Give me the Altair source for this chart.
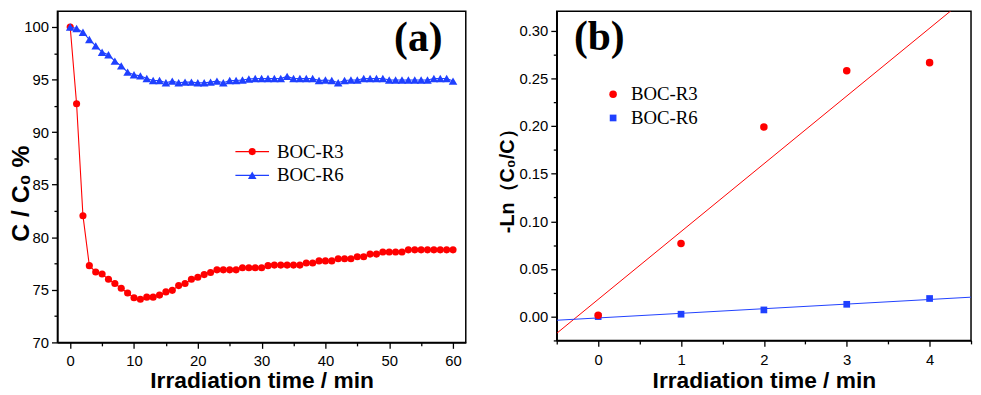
import altair as alt
import pandas as pd

# ---------------- data ----------------
names = ["BOC-R3", "BOC-R6"]
colors = ["#ff0000", "#1f40ff"]
panel_labels = ["(a)", "(b)"]

time_a = list(range(61))
r3_a = [100.0, 92.7, 82.05, 77.3, 76.7, 76.5, 76.0, 75.6, 75.15, 74.7, 74.25,
        74.1, 74.3, 74.3, 74.5, 74.8, 74.95, 75.4, 75.6, 76.0, 76.2,
        76.45, 76.65, 76.9, 76.9, 76.9, 76.9, 77.1, 77.1, 77.1, 77.1,
        77.3, 77.35, 77.35, 77.35, 77.35, 77.35, 77.55, 77.55, 77.75, 77.75,
        77.75, 77.95, 77.95, 77.95, 78.15, 78.15, 78.4, 78.4, 78.6, 78.6,
        78.6, 78.6, 78.8, 78.8, 78.8, 78.8, 78.8, 78.8, 78.8, 78.8]
r6_a = [100.0, 99.85, 99.5, 98.8, 98.2, 97.6, 97.35, 96.75, 96.3, 95.7, 95.45,
        95.35, 95.1, 94.9, 94.9, 94.7, 94.85, 94.7, 94.75, 94.75, 94.7,
        94.7, 94.75, 94.85, 94.7, 94.9, 94.9, 94.95, 95.05, 95.1, 95.1,
        95.1, 95.1, 95.1, 95.3, 95.1, 95.1, 95.1, 95.1, 94.9, 94.95,
        94.9, 94.7, 94.9, 94.95, 94.95, 95.1, 95.1, 95.1, 95.1, 94.95,
        94.95, 94.95, 94.95, 94.95, 94.95, 94.95, 95.1, 95.1, 95.1, 94.85]

time_b = [0, 1, 2, 3, 4]
r3_b = [0.0014, 0.0768, 0.199, 0.258, 0.2665]
r6_b = [0.0, 0.0025, 0.007, 0.0129, 0.019]

xticks_a = [0, 5, 10, 15, 20, 25, 30, 35, 40, 45, 50, 55, 60]
yticks_a = [70, 72.5, 75, 77.5, 80, 82.5, 85, 87.5, 90, 92.5, 95, 97.5, 100]
xticks_b = [-0.5, 0, 0.5, 1, 1.5, 2, 2.5, 3, 3.5, 4, 4.5]
yticks_b = [-0.025, 0.0, 0.025, 0.05, 0.075, 0.1, 0.125, 0.15, 0.175, 0.2,
            0.225, 0.25, 0.275, 0.3]

# ---------------- helpers ----------------
def cond_tick(test, big=6, small=3.5):
    return {"condition": {"test": test, "value": big}, "value": small}

TITLE_FONT = "Liberation Sans"
SERIF = "Liberation Serif"

# ---------------- panel (a) ----------------
df_a = pd.DataFrame({
    "t": time_a * 2,
    "v": r3_a + r6_a,
    "s": [names[0]] * len(time_a) + [names[1]] * len(time_a),
})

xa = alt.X("t:Q", scale=alt.Scale(domain=[-2, 62], nice=False, zero=False),
           axis=alt.Axis(values=xticks_a, title="Irradiation time / min",
                         labelExpr="datum.value % 10 === 0 ? datum.label : ''",
                         tickSize=cond_tick("datum.value % 10 === 0"),
                         labelPadding=5, titlePadding=2, titleFontSize=23))
ya = alt.Y("v:Q", scale=alt.Scale(domain=[70, 101.5], nice=False, zero=False),
           axis=alt.Axis(values=yticks_a, title="C / C₀ %",
                         labelExpr="datum.value % 5 === 0 ? datum.label : ''",
                         tickSize=cond_tick("datum.value % 5 === 0"),
                         labelPadding=3, titlePadding=-10, titleFontSize=25,
                         titleY=184))

shapes_a = ["circle", "triangle-up"]
sizes_a = [52, 75]
layers_a = []
for i, nm in enumerate(names):
    d = df_a[df_a["s"] == nm]
    base = alt.Chart(d)
    layers_a.append(base.mark_line(color=colors[i], strokeWidth=1.1).encode(x=xa, y=ya))
    layers_a.append(base.mark_point(shape=shapes_a[i], filled=True, opacity=1,
                                    size=sizes_a[i], color=colors[i]).encode(x=xa, y=ya))

# legend (a)
for i, nm in enumerate(names):
    ld = alt.Chart(pd.DataFrame({"name": [nm]}))
    yy = 142 + 24 * i
    layers_a.append(ld.mark_rule(color=colors[i], strokeWidth=1.2).encode(
        x=alt.value(180), x2=alt.value(214), y=alt.value(yy)))
    layers_a.append(ld.mark_point(shape=shapes_a[i], filled=True, opacity=1,
                                  size=sizes_a[i], color=colors[i]).encode(
        x=alt.value(197), y=alt.value(yy)))
    layers_a.append(ld.mark_text(align="left", baseline="middle", font=SERIF,
                                 fontSize=19, color="black").encode(
        x=alt.value(222), y=alt.value(yy), text="name:N"))

layers_a.append(alt.Chart(pd.DataFrame({"lab": [panel_labels[0]]})).mark_text(
    font=SERIF, fontWeight="bold", fontSize=42, align="center",
    baseline="alphabetic", color="black").encode(
    x=alt.value(365), y=alt.value(40), text="lab:N"))

chart_a = alt.layer(*layers_a).properties(width=413, height=335)

# ---------------- panel (b) ----------------
df_b = pd.DataFrame({
    "t": time_b * 2,
    "v": r3_b + r6_b,
    "s": [names[0]] * len(time_b) + [names[1]] * len(time_b),
})

xb = alt.X("t:Q", scale=alt.Scale(domain=[-0.5, 4.5], nice=False, zero=False),
           axis=alt.Axis(values=xticks_b, title="Irradiation time / min",
                         labelExpr="datum.value % 1 === 0 ? format(datum.value, 'd') : ''",
                         tickSize=cond_tick("datum.value % 1 === 0"),
                         labelPadding=6, titlePadding=3, titleFontSize=23))
yb = alt.Y("v:Q", scale=alt.Scale(domain=[-0.025, 0.3205], nice=False, zero=False),
           axis=alt.Axis(values=yticks_b, title="-Ln（C₀/C）",
                         labelExpr="abs(round(datum.value*40)) % 2 === 0 ? format(datum.value, '.2f') : ''",
                         tickSize=cond_tick("abs(round(datum.value*40)) % 2 === 0"),
                         labelPadding=3, titlePadding=2, titleFontSize=20))

shapes_b = ["circle", "square"]
sizes_b = [58, 46]
layers_b = []
for i, nm in enumerate(names):
    d = df_b[df_b["s"] == nm]
    base = alt.Chart(d)
    layers_b.append(base.transform_regression("t", "v", extent=[-0.5, 4.5]).mark_line(
        color=colors[i], strokeWidth=1.0, clip=True).encode(x=xb, y=yb))
for nm in names[::-1]:
    j = names.index(nm)
    d = df_b[df_b["s"] == nm]
    layers_b.append(alt.Chart(d).mark_point(shape=shapes_b[j], filled=True, opacity=1,
                                            size=sizes_b[j], color=colors[j]).encode(x=xb, y=yb))

for i, nm in enumerate(names):
    ld = alt.Chart(pd.DataFrame({"name": [nm]}))
    yy = 84 + 24 * i
    layers_b.append(ld.mark_point(shape=shapes_b[i], filled=True, opacity=1,
                                  size=sizes_b[i], color=colors[i]).encode(
        x=alt.value(57), y=alt.value(yy)))
    layers_b.append(ld.mark_text(align="left", baseline="middle", font=SERIF,
                                 fontSize=19, color="black").encode(
        x=alt.value(75), y=alt.value(yy), text="name:N"))

layers_b.append(alt.Chart(pd.DataFrame({"lab": [panel_labels[1]]})).mark_text(
    font=SERIF, fontWeight="bold", fontSize=42, align="center",
    baseline="alphabetic", color="black").encode(
    x=alt.value(43), y=alt.value(39), text="lab:N"))

chart_b = alt.layer(*layers_b).properties(width=419, height=333)

chart = alt.hconcat(chart_a, chart_b, spacing=30).properties(
    padding={"left": 0, "top": 0, "right": 0, "bottom": 0},
    background="white",
).configure_view(
    stroke="black", strokeWidth=1.5
).configure_axis(
    labelFont=TITLE_FONT, labelFontSize=15, labelColor="black",
    titleFont=TITLE_FONT, titleFontWeight="bold", titleColor="black",
    domainColor="black", domainWidth=1.5, tickColor="black", tickWidth=1.3,
    grid=False,
)

chart.save("out.html", embed_options={"renderer": "svg", "actions": False})
